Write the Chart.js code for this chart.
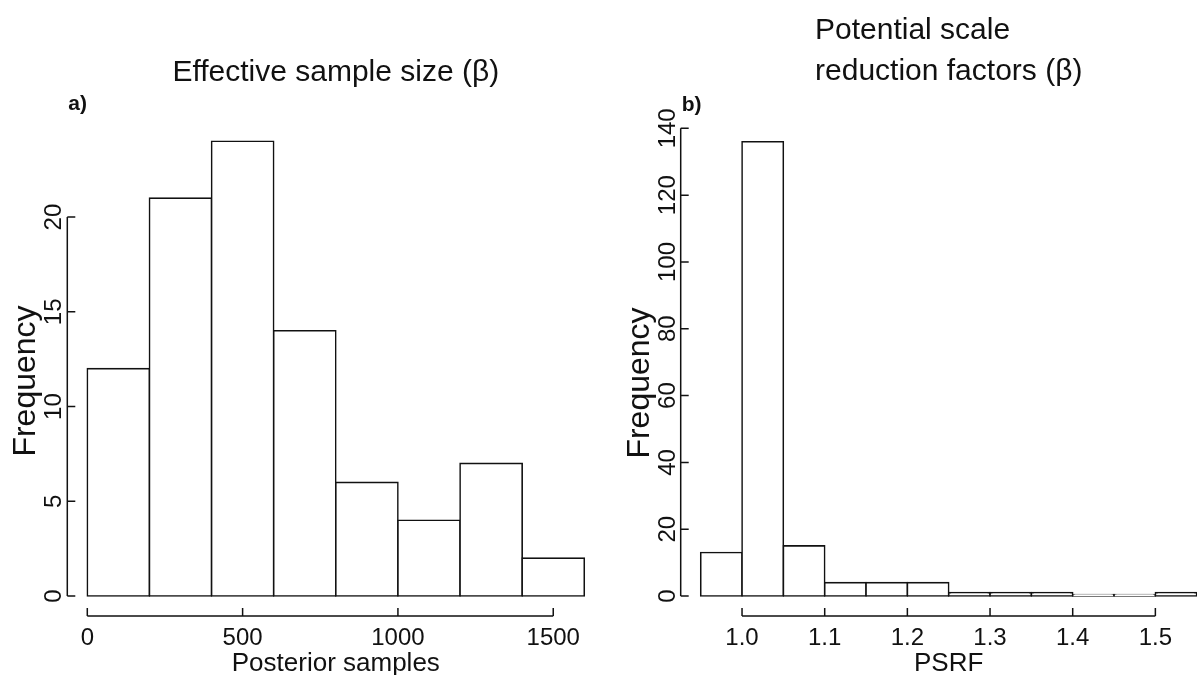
<!DOCTYPE html>
<html>
<head>
<meta charset="utf-8">
<script src="https://cdn.jsdelivr.net/npm/chart.js@4/dist/chart.umd.min.js"></script>
<style>
  html, body { margin: 0; padding: 0; background: #ffffff; }
  #wrap { position: relative; width: 1197px; height: 675px; overflow: hidden; background: #fff; }
  #cA { position: absolute; left: 0; top: 0; }
  #cB { position: absolute; left: 598px; top: 0; }
</style>
</head>
<body>
<div id="wrap">
  <canvas id="cA" width="598" height="675"></canvas>
  <canvas id="cB" width="599" height="675"></canvas>
</div>
<script>
// ---------- Panel a: Effective sample size ----------
const essTitle = ['Effective sample size (β)'];
const essPanelLabel = 'a)';
const essXLabel = 'Posterior samples';
const essYLabel = 'Frequency';
const essBinEdges = [0, 200, 400, 600, 800, 1000, 1200, 1400, 1600];
const essCounts = [12, 21, 24, 14, 6, 4, 7, 2];
const essXTicks = [0, 500, 1000, 1500];
const essXTickLabels = ['0', '500', '1000', '1500'];
const essYTicks = [0, 5, 10, 15, 20];
const essYTickLabels = ['0', '5', '10', '15', '20'];

// ---------- Panel b: PSRF ----------
const psrfTitle = ['Potential scale', 'reduction factors (β)'];
const psrfPanelLabel = 'b)';
const psrfXLabel = 'PSRF';
const psrfYLabel = 'Frequency';
const psrfBinEdges = [0.95, 1.0, 1.05, 1.1, 1.15, 1.2, 1.25, 1.3, 1.35, 1.4, 1.45, 1.5, 1.55];
const psrfCounts = [13, 136, 15, 4, 4, 4, 1, 1, 1, 0, 0, 1];
const psrfXTicks = [1.0, 1.1, 1.2, 1.3, 1.4, 1.5];
const psrfXTickLabels = ['1.0', '1.1', '1.2', '1.3', '1.4', '1.5'];
const psrfYTicks = [0, 20, 40, 60, 80, 100, 120, 140];
const psrfYTickLabels = ['0', '20', '40', '60', '80', '100', '120', '140'];

const FONT = '"Liberation Sans", Arial, Helvetica, sans-serif';
const INK = '#111111';

function histData(edges, counts) {
  return counts.map((c, i) => ({ x: (edges[i] + edges[i + 1]) / 2, y: c }));
}

// R-style axes, titles and labels drawn from the chart's own scales
const rStylePlugin = {
  id: 'rStyle',
  afterDraw(chart, args, o) {
    const ctx = chart.ctx;
    const xs = chart.scales.x, ys = chart.scales.y;
    const area = chart.chartArea;
    const axX = area.left - 20;
    const axY = area.bottom + 20;
    const tick = 8;
    ctx.save();
    ctx.strokeStyle = INK;
    ctx.fillStyle = INK;
    ctx.lineWidth = 1.5;
    ctx.lineCap = 'butt';

    // y axis
    const yTop = ys.getPixelForValue(o.yTicks[o.yTicks.length - 1]);
    const yBot = ys.getPixelForValue(o.yTicks[0]);
    ctx.beginPath();
    ctx.moveTo(axX, yTop); ctx.lineTo(axX, yBot);
    o.yTicks.forEach(v => {
      const p = ys.getPixelForValue(v);
      ctx.moveTo(axX, p); ctx.lineTo(axX + tick, p);
    });
    ctx.stroke();
    ctx.font = '24px ' + FONT;
    ctx.textAlign = 'center';
    ctx.textBaseline = 'alphabetic';
    o.yTicks.forEach((v, i) => {
      const p = ys.getPixelForValue(v);
      ctx.save();
      ctx.translate(axX - 6, p);
      ctx.rotate(-Math.PI / 2);
      ctx.fillText(o.yTickLabels[i], 0, 0);
      ctx.restore();
    });

    // x axis
    const xL = xs.getPixelForValue(o.xTicks[0]);
    const xR = xs.getPixelForValue(o.xTicks[o.xTicks.length - 1]);
    ctx.beginPath();
    ctx.moveTo(xL, axY); ctx.lineTo(xR, axY);
    o.xTicks.forEach(v => {
      const p = xs.getPixelForValue(v);
      ctx.moveTo(p, axY); ctx.lineTo(p, axY - tick);
    });
    ctx.stroke();
    o.xTicks.forEach((v, i) => {
      ctx.fillText(o.xTickLabels[i], xs.getPixelForValue(v), axY + 29);
    });

    // axis titles
    const cx = (area.left + area.right) / 2;
    ctx.font = '26px ' + FONT;
    ctx.fillText(o.xLabel, cx, axY + 55);
    ctx.font = '32px ' + FONT;
    ctx.save();
    ctx.translate(axX - 32, o.yLabelCenter);
    ctx.rotate(-Math.PI / 2);
    ctx.fillText(o.yLabel, 0, 0);
    ctx.restore();

    // main title
    ctx.font = '30px ' + FONT;
    const n = o.title.length;
    const lastW = ctx.measureText(o.title[n - 1]).width;
    const leftEdge = cx - lastW / 2;
    o.title.forEach((line, i) => {
      const base = o.titleBaseline - (n - 1 - i) * 41;
      if (i === n - 1) {
        ctx.textAlign = 'center';
        ctx.fillText(line, cx, base);
      } else {
        ctx.textAlign = 'left';
        ctx.fillText(line, leftEdge, base);
      }
    });

    // panel label
    ctx.font = 'bold 21px ' + FONT;
    ctx.textAlign = 'left';
    ctx.fillText(o.panelLabel, axX + 1, o.panelBaseline);
    ctx.restore();
  }
};

function makeHist(canvasId, edges, counts, yMax, padding, opts, minLen) {
  return new Chart(document.getElementById(canvasId), {
    type: 'bar',
    data: {
      datasets: [{
        data: histData(edges, counts),
        backgroundColor: '#ffffff',
        borderColor: INK,
        borderWidth: 1.6,
        borderSkipped: false,
        inflateAmount: 0.8,
        barPercentage: 1,
        categoryPercentage: 1,
        minBarLength: minLen,
        clip: false
      }]
    },
    options: {
      responsive: false,
      animation: false,
      devicePixelRatio: 1,
      layout: { padding: padding },
      scales: {
        x: { type: 'linear', display: false, offset: false, min: edges[0], max: edges[edges.length - 1] },
        y: { type: 'linear', display: false, min: 0, max: yMax }
      },
      plugins: {
        legend: { display: false },
        tooltip: { enabled: false },
        title: { display: false },
        rStyle: opts
      }
    },
    plugins: [rStylePlugin]
  });
}

makeHist('cA', essBinEdges, essCounts, 24,
  { left: 87.3, right: 13.7, top: 141.3, bottom: 79 },
  {
    xTicks: essXTicks, xTickLabels: essXTickLabels,
    yTicks: essYTicks, yTickLabels: essYTickLabels,
    xLabel: essXLabel, yLabel: essYLabel, yLabelCenter: 381,
    title: essTitle, titleBaseline: 81,
    panelLabel: essPanelLabel, panelBaseline: 110
  }, 0);

makeHist('cB', psrfBinEdges, psrfCounts, 136,
  { left: 102.7, right: 0.3, top: 141.7, bottom: 79 },
  {
    xTicks: psrfXTicks, xTickLabels: psrfXTickLabels,
    yTicks: psrfYTicks, yTickLabels: psrfYTickLabels,
    xLabel: psrfXLabel, yLabel: psrfYLabel, yLabelCenter: 383,
    title: psrfTitle, titleBaseline: 80,
    panelLabel: psrfPanelLabel, panelBaseline: 111
  }, 1.5);
</script>
</body>
</html>
